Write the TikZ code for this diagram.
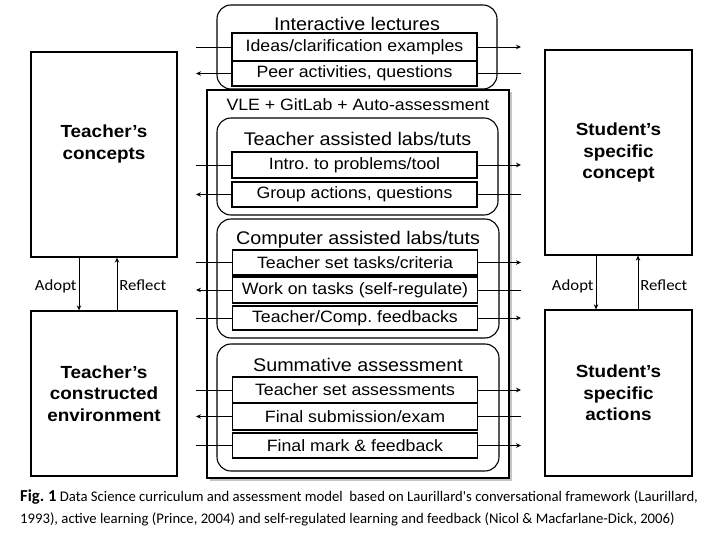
\documentclass[tikz,border=0pt]{standalone}
\usepackage{fontspec}
\setmainfont[FakeStretch=1.08]{Liberation Sans}
\newfontfamily\capfont{Carlito}
\newfontfamily\lblfont[FakeStretch=1.08]{Carlito}
\usetikzlibrary{arrows.meta,positioning,shadows}
\frenchspacing

\begin{document}
\begin{tikzpicture}[x=1pt, y=-1pt,
    bigbox/.style={draw, line width=1.3pt, minimum width=146pt, align=center, font=\fontsize{17.5}{21.5}\selectfont\bfseries},
    grp/.style={draw, line width=1.1pt, rounded corners=14pt},
    itm/.style={draw, fill=white, line width=1.6pt, minimum width=245pt, minimum height=26pt, inner sep=0pt, font=\fontsize{16.4}{18}\selectfont},
    ttl/.style={font=\fontsize{18.3}{20}\selectfont, inner sep=0pt},
    arr/.style={-{Stealth[length=5pt,width=4.5pt]}, line width=0.8pt},
    ln/.style={line width=0.8pt},
    lbl/.style={font=\lblfont\fontsize{15.5}{17}\selectfont, inner sep=2pt, text height=10pt, text depth=3pt, yshift=-2.5pt}
]
\useasboundingbox (0,0) rectangle (720,540);

% teacher and student sides
\node[bigbox, minimum height=205pt, label={[align=center, font=\fontsize{17.5}{21.5}\selectfont\bfseries, yshift=10.5pt]center:Teacher’s\\concepts}] (tconc) at (104,154.5) {};
\node[bigbox, minimum height=165pt] (tenv) at (104,393.5) {Teacher’s\\constructed\\environment};
\node[bigbox, minimum width=147pt, minimum height=205pt] (sconc) at (618.5,152.5) {Student’s\\specific\\concept};
\node[bigbox, minimum width=147pt, minimum height=166pt] (sact) at (618.5,393) {Student’s\\specific\\actions};

\draw[arr] ([xshift=-25pt]tconc.south) -- node[lbl, left] {Adopt} ([xshift=-25pt]tenv.north);
\draw[arr] ([xshift=13pt]tenv.north) -- node[lbl, right] {Reflect} ([xshift=13pt]tconc.south);
\draw[arr] ([xshift=-22.5pt]sconc.south) -- node[lbl, left, yshift=-1.5pt] {Adopt} ([xshift=-22.5pt]sact.north);
\draw[arr] ([xshift=19.5pt]sact.north) -- node[lbl, right, yshift=-1.5pt] {Reflect} ([xshift=19.5pt]sconc.south);

% middle column
\node[draw, fill=white, line width=1.3pt, minimum width=302pt, minimum height=388pt,
      drop shadow={shadow xshift=2.5pt, shadow yshift=-2.5pt, fill=black!45}] (vle) at (358,284) {};
\node[ttl, font=\fontsize{16.4}{18}\selectfont] (vlettl) at (358,105) {VLE + GitLab + Auto-assessment};

\node[grp, minimum width=280pt, minimum height=84pt] (il) at (357,47) {};
\node[grp, minimum width=281pt, minimum height=97pt] (tal) at (357.5,166.5) {};
\node[grp, minimum width=282pt, minimum height=119pt] (cal) at (358,278.5) {};
\node[grp, minimum width=282pt, minimum height=127pt] (sum) at (358,407.5) {};
\node[ttl] (ilttl) at (357,24) {Interactive lectures};
\node[ttl] (talttl) at (357.5,139) {Teacher assisted labs/tuts};
\node[ttl] (calttl) at (358,240) {Computer assisted labs/tuts};
\node[ttl] (sumttl) at (358,365) {Summative assessment};

\node[itm, minimum height=28pt] (ideas) at (354.5,47) {Ideas/clarification examples};
\node[itm, minimum height=25pt] (peer) at (354.5,73.5) {Peer activities, questions};
\node[itm] (intro) at (354.5,165) {Intro. to problems/tool};
\node[itm, minimum height=25pt] (group) at (354.5,194.5) {Group actions, questions};
\node[itm, minimum height=25pt] (tasks) at (355,262.5) {Teacher set tasks/criteria};
\node[itm] (work) at (355,290) {Work on tasks (self-regulate)};
\node[itm, minimum height=24pt] (fb) at (355,318) {Teacher/Comp. feedbacks};
\node[itm] (tsa) at (355,390) {Teacher set assessments};
\node[itm, minimum height=27pt] (sub) at (355,416.5) {Final submission/exam};
\node[itm, minimum height=25pt] (mark) at (355,445.5) {Final mark \& feedback};

\foreach \n/\y in {ideas/47, peer/73.5, intro/165, group/194.5, tasks/262.5,
                   work/290, fb/318, tsa/390, sub/416.5, mark/445.5} {
  \coordinate (\n-l) at (196,\y);
  \coordinate (\n-r) at (521,\y);
}
% teacher to student
\foreach \n in {ideas, intro, tasks, fb, tsa, mark} {
  \draw[ln] (\n-l) -- (\n);
  \draw[arr] (\n) -- (\n-r);
}
% student to teacher
\foreach \n in {peer, group, work, sub} {
  \draw[ln] (\n-r) -- (\n);
  \draw[arr] (\n) -- (\n-l);
}

\node[anchor=north west, align=left, inner sep=0pt, font=\capfont\fontsize{14.7}{22}\selectfont] (cap) at (20,489.5)
  {{\bfseries\fontsize{16.7}{22}\selectfont Fig. 1} Data Science curriculum and assessment model\ \ based on Laurillard\textquotesingle s conversational framework (Laurillard,\\
   1993), active learning (Prince, 2004) and self-regulated learning and feedback (Nicol \& Macfarlane-Dick, 2006)};
\end{tikzpicture}
\end{document}
